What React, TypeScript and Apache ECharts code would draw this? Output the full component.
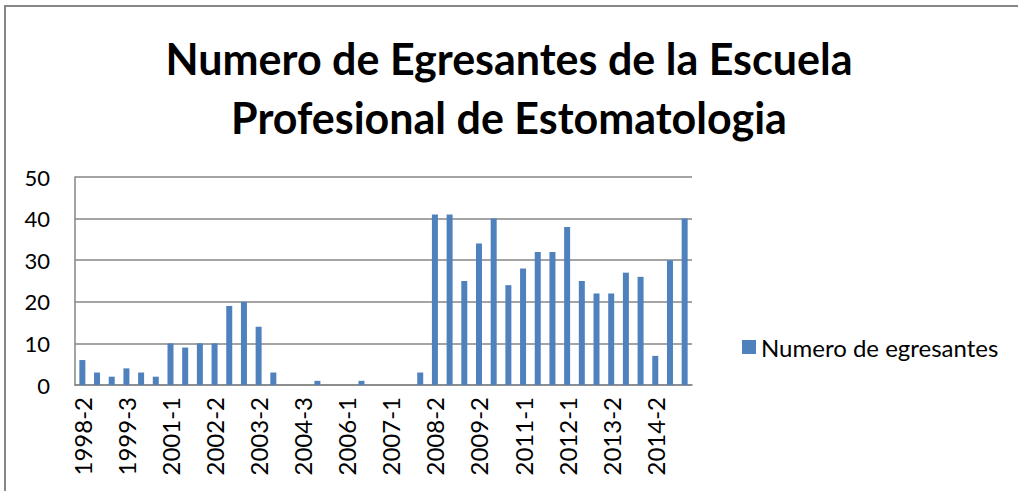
import React, { useEffect, useRef } from "react";
import * as echarts from "echarts";

const categories = [
  "1998-2", "1999-1", "1999-2", "1999-3", "2000-1", "2000-2",
  "2001-1", "2001-2", "2002-1", "2002-2", "2002-3", "2003-1",
  "2003-2", "2004-1", "2004-2", "2004-3", "2005-1", "2005-2",
  "2006-1", "2006-2", "2006-3", "2007-1", "2007-2", "2008-1",
  "2008-2", "2008-3", "2009-1", "2009-2", "2010-1", "2010-2",
  "2011-1", "2011-2", "2011-3", "2012-1", "2012-2", "2013-1",
  "2013-2", "2013-3", "2014-1", "2014-2", "2014-3", "2015-1",
];

const egresantes = [
  6, 3, 2, 4, 3, 2,
  10, 9, 10, 10, 19, 20,
  14, 3, 0, 0, 1, 0,
  0, 1, 0, 0, 0, 3,
  41, 41, 25, 34, 40, 24,
  28, 32, 32, 38, 25, 22,
  22, 27, 26, 7, 30, 40,
];

const seriesName = "Numero de egresantes";
const titleText = "Numero de Egresantes de la Escuela\nProfesional de Estomatologia";

export default function App() {
  const ref = useRef<HTMLDivElement>(null);
  useEffect(() => {
    if (!ref.current) return;
    const chart = echarts.init(ref.current, null, { renderer: "svg" });
    chart.setOption({
      animation: false,
      backgroundColor: "#ffffff",
      title: {
        text: titleText,
        left: "center",
        top: 24,
        textStyle: {
          fontFamily: "Lato",
          fontWeight: "bold",
          fontSize: 43,
          lineHeight: 59,
          color: "#000000",
        },
      },
      graphic: [
        {
          type: "polyline",
          shape: { points: [[5, 491], [5, 6], [1018, 6]] },
          style: { stroke: "#878787", lineWidth: 2, fill: "none" },
          silent: true,
        },
      ],
      legend: {
        left: 737,
        top: 330,
        orient: "vertical",
        icon: "rect",
        itemWidth: 14,
        itemHeight: 14,
        itemGap: 8,
        textStyle: { fontFamily: "Lato", fontSize: 24, color: "#000000", padding: [0, 0, 0, 0] },
        data: [seriesName],
      },
      grid: { left: 75, right: 326, top: 177, bottom: 106, containLabel: false },
      xAxis: {
        type: "category",
        data: categories,
        axisLine: { show: true, lineStyle: { color: "#868686", width: 1.5 } },
        axisTick: { show: false },
        axisLabel: {
          interval: 2,
          rotate: 90,
          fontFamily: "Lato",
          fontSize: 24,
          color: "#000000",
          margin: 12,
        },
      },
      yAxis: {
        type: "value",
        min: 0,
        max: 50,
        interval: 10,
        axisLine: { show: true, lineStyle: { color: "#868686", width: 1.5 } },
        axisTick: { show: false },
        splitLine: { show: true, lineStyle: { color: "#868686", width: 1.5 } },
        axisLabel: {
          fontFamily: "Lato",
          fontSize: 22,
          color: "#000000",
          margin: 25,
        },
      },
      series: [
        {
          name: seriesName,
          type: "bar",
          data: egresantes,
          barWidth: 6,
          itemStyle: { color: "#4F81BD" },
        },
      ],
    });
    return () => chart.dispose();
  }, []);
  return (
    <div
      ref={ref}
      style={{ position: "absolute", left: 0, top: 0, width: 1018, height: 491 }}
    />
  );
}
